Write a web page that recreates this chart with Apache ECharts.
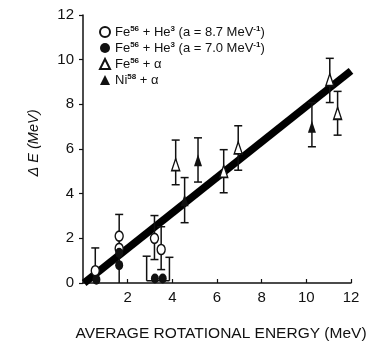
<!DOCTYPE html>
<html>
<head>
<meta charset="utf-8">
<script src="https://cdn.jsdelivr.net/npm/echarts@6/dist/echarts.min.js"></script>
<style>
  html, body { margin: 0; padding: 0; background: #fff; }
  #chart { width: 370px; height: 344px; }
</style>
</head>
<body>
<div id="chart"></div>
<script>
// values, [rotational energy, delta E]
const openCircle = [[0.55, 0.55], [1.62, 2.1], [1.62, 1.55], [3.2, 2.0], [3.5, 1.5]]
const filledCircle = [[0.6, 0.15], [1.62, 1.35], [1.62, 0.8], [3.22, 0.2], [3.57, 0.2]]
const openTriangle = [[4.15, 5.3], [6.3, 5.0], [6.95, 6.05], [11.05, 9.1], [11.4, 7.6]]
const filledTriangle = [[4.55, 3.7], [5.15, 5.5], [10.25, 7.0]]

// error bars: [x, low, high, capLow, capHigh]
const errorBars = [
  [0.55, 0, 1.57, 0, 1],
  [1.62, 0, 3.07, 0, 1],
  [3.2, 1.05, 3.02, 1, 1],
  [3.5, 0.6, 2.52, 1, 1],
  [2.85, 0.1, 1.2, 0, 1],
  [3.87, 0.1, 1.15, 0, 1],
  [4.15, 4.4, 6.4, 1, 1],
  [4.55, 2.7, 4.72, 1, 1],
  [5.15, 4.52, 6.5, 1, 1],
  [6.3, 4.04, 5.97, 1, 1],
  [6.95, 5.05, 7.04, 1, 1],
  [10.25, 6.1, 8.08, 1, 1],
  [11.05, 8.08, 10.06, 1, 1],
  [11.4, 6.62, 8.58, 1, 1],
]
// bottom of the bracket under the two filled points near 3.4
const bracket = [[2.85, 0.1], [3.87, 0.1]]

const fitLine = [[0.05, 0], [12, 9.5]]

const xTicks = [0, 2, 4, 6, 8, 10, 12]
const yTicks = [0, 2, 4, 6, 8, 10, 12]

const legendText = {
  oc: "Fe{s|56} + He{s|3} (a = 8.7 MeV{s|-1})",
  fc: "Fe{s|56} + He{s|3} (a = 7.0 MeV{s|-1})",
  ot: "Fe{s|56} + \u03b1",
  ft: "Ni{s|58} + \u03b1",
}

const FONT = "Liberation Sans"
const INK = "#111"

function renderErrorBar(params, api) {
  const x = api.value(0)
  const lo = api.coord([x, api.value(1)])
  const hi = api.coord([x, api.value(2)])
  const half = 4
  const style = { stroke: INK, lineWidth: 1.5 }
  const children = [
    { type: "line", shape: { x1: lo[0], y1: lo[1], x2: hi[0], y2: hi[1] }, style },
  ]
  if (api.value(3)) {
    children.push({ type: "line", shape: { x1: lo[0] - half, y1: lo[1], x2: lo[0] + half, y2: lo[1] }, style })
  }
  if (api.value(4)) {
    children.push({ type: "line", shape: { x1: hi[0] - half, y1: hi[1], x2: hi[0] + half, y2: hi[1] }, style })
  }
  return { type: "group", children }
}

const chart = echarts.init(document.getElementById("chart"), null, { renderer: "canvas" })
chart.setOption({
  animation: false,
  backgroundColor: "#fff",
  grid: { left: 83, right: 19, top: 15, bottom: 61, outerBoundsMode: "none", containLabel: false },
  legend: {
    orient: "vertical",
    left: 94,
    top: 20,
    itemWidth: 10,
    itemHeight: 10,
    itemGap: 2,
    selectedMode: false,
    data: ["oc", "fc", "ot", "ft"],
    formatter: (name) => legendText[name],
    textStyle: {
      fontFamily: FONT,
      fontSize: 13,
      color: INK,
      lineHeight: 14,
      rich: {
        s: { fontFamily: FONT, fontSize: 8, fontWeight: "bold", color: INK, verticalAlign: "top", lineHeight: 9 },
      },
    },
  },
  xAxis: {
    type: "value",
    min: 0,
    max: 12,
    interval: 2,
    name: "AVERAGE ROTATIONAL ENERGY (MeV)",
    nameLocation: "middle",
    nameGap: 43,
    nameTextStyle: { fontFamily: FONT, fontSize: 15.5, color: INK, padding: [0, 0, 0, 8] },
    axisLine: { onZero: false, lineStyle: { color: INK, width: 1.5 } },
    axisTick: { inside: true, length: 4, lineStyle: { color: INK, width: 1.2 } },
    axisLabel: {
      showMinLabel: false,
      margin: 7,
      fontFamily: FONT,
      fontSize: 15,
      color: INK,
      formatter: (v) => (xTicks.includes(v) ? String(v) : ""),
    },
    splitLine: { show: false },
  },
  yAxis: {
    type: "value",
    min: 0,
    max: 12,
    interval: 2,
    name: "\u0394 E (MeV)",
    nameLocation: "middle",
    nameRotate: 90,
    nameGap: 42,
    nameTextStyle: { fontFamily: FONT, fontSize: 14.5, fontStyle: "italic", color: INK, padding: [0, 0, 0, 12] },
    axisLine: { onZero: false, lineStyle: { color: INK, width: 1.5 } },
    axisTick: { inside: false, length: 4, lineStyle: { color: INK, width: 1.2 } },
    axisLabel: {
      margin: 9,
      fontFamily: FONT,
      fontSize: 15,
      color: INK,
      formatter: (v) => (yTicks.includes(v) ? String(v) : ""),
    },
    splitLine: { show: false },
  },
  series: [
    {
      name: "fit",
      type: "line",
      data: fitLine,
      symbol: "none",
      clip: true,
      lineStyle: { color: "#000", width: 7.5, cap: "butt" },
      z: 1,
    },
    {
      name: "bars",
      type: "custom",
      renderItem: renderErrorBar,
      data: errorBars,
      encode: { x: 0, y: [1, 2] },
      z: 2,
    },
    {
      name: "bracket",
      type: "line",
      data: bracket,
      symbol: "none",
      lineStyle: { color: INK, width: 1.5 },
      z: 2,
    },
    {
      name: "oc",
      type: "scatter",
      data: openCircle,
      symbol: "circle",
      symbolSize: [8, 10],
      itemStyle: { color: "#fff", borderColor: INK, borderWidth: 1.5, opacity: 1 },
      z: 3,
    },
    {
      name: "fc",
      type: "scatter",
      data: filledCircle,
      symbol: "circle",
      symbolSize: [8, 10],
      itemStyle: { color: INK, opacity: 1 },
      z: 3,
    },
    {
      name: "ot",
      type: "scatter",
      data: openTriangle,
      symbol: "triangle",
      symbolSize: [8, 12],
      itemStyle: { color: "#fff", borderColor: INK, borderWidth: 1.5, opacity: 1 },
      z: 3,
    },
    {
      name: "ft",
      type: "scatter",
      data: filledTriangle,
      symbol: "triangle",
      symbolSize: [8, 12],
      itemStyle: { color: INK, opacity: 1 },
      z: 3,
    },
  ],
})
</script>
</body>
</html>
